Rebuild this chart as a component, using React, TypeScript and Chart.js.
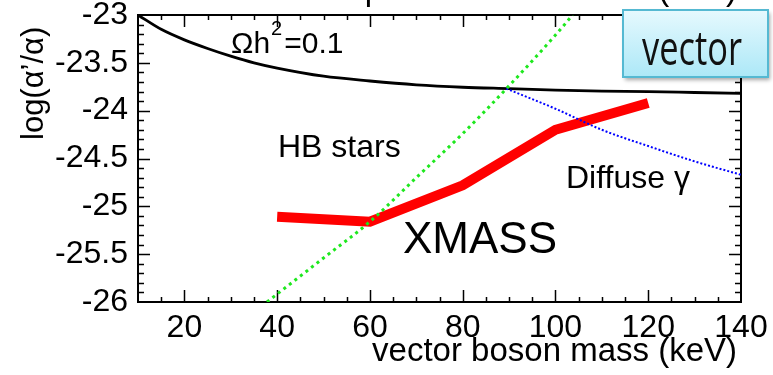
import React, { useEffect, useRef } from "react";
import { Chart, registerables } from "chart.js";
Chart.register(...registerables);

// ---- data ----
const relicMass = [10, 15, 20, 25, 30, 35, 40, 50, 60, 70, 80, 90, 100, 110, 120, 130, 140];
const relicCoupling = [-23.0, -23.15, -23.26, -23.35, -23.43, -23.5, -23.555, -23.64, -23.69, -23.73, -23.755, -23.77, -23.785, -23.795, -23.8, -23.81, -23.82];

const hbMass = [37.8, 50, 60, 70, 80, 90, 100, 103.7];
const hbCoupling = [-26.0, -25.54, -25.16, -24.7, -24.24, -23.74, -23.21, -23.0];

const diffuseMass = [89.4, 100, 110, 120, 130, 140];
const diffuseCoupling = [-23.77, -23.98, -24.2, -24.37, -24.53, -24.67];

const xmassMass = [40, 60, 80, 100, 120];
const xmassCoupling = [-25.11, -25.16, -24.78, -24.2, -23.92];

const xTickValues = [20, 40, 60, 80, 100, 120, 140];
const yTickValues = [-23, -23.5, -24, -24.5, -25, -25.5, -26];
const yTickLabels = ["-23", "-23.5", "-24", "-24.5", "-25", "-25.5", "-26"];

const FONT = '"Liberation Sans", Arial, Helvetica, sans-serif';

const toXY = (xs: number[], ys: number[]) => xs.map((x, i) => ({ x, y: ys[i] }));

const decorPlugin = {
  id: "decor",
  beforeDatasetsDraw(chart: any) {
    const { ctx, chartArea: a, scales } = chart;
    const xs = scales.x;
    const ys = scales.y;
    ctx.save();
    ctx.strokeStyle = "#000";
    ctx.lineWidth = 1.5;
    ctx.beginPath();
    for (let v = 15; v < 140; v += 5) {
      const px = Math.round(xs.getPixelForValue(v)) + 0.5;
      const len = v % 20 === 0 ? 12 : 5;
      ctx.moveTo(px, a.bottom);
      ctx.lineTo(px, a.bottom - len);
      ctx.moveTo(px, a.top);
      ctx.lineTo(px, a.top + len);
    }
    for (let i = 1; i < 30; i++) {
      const v = -23 - i * 0.1;
      const py = Math.round(ys.getPixelForValue(v)) + 0.5;
      const len = i % 5 === 0 ? 12 : 6;
      ctx.moveTo(a.left, py);
      ctx.lineTo(a.left + len, py);
      ctx.moveTo(a.right, py);
      ctx.lineTo(a.right - len, py);
    }
    ctx.stroke();
    ctx.lineWidth = 2;
    ctx.strokeRect(a.left, a.top, a.right - a.left, a.bottom - a.top);
    ctx.restore();
  },
  afterDraw(chart: any) {
    const { ctx } = chart;
    ctx.save();
    ctx.fillStyle = "#000";
    ctx.textBaseline = "alphabetic";

    ctx.font = `33px ${FONT}`;
    ctx.textAlign = "right";
    ctx.fillText("pseudoscalar mass (keV)", 737, 0);

    ctx.fillText("vector boson mass (keV)", 737, 361);

    ctx.save();
    ctx.translate(43, 140);
    ctx.rotate(-Math.PI / 2);
    ctx.textAlign = "left";
    ctx.font = `31px ${FONT}`;
    ctx.fillText("log(α’/α)", 0, 0);
    ctx.restore();

    ctx.textAlign = "left";
    ctx.font = `30px ${FONT}`;
    let x = 231;
    ctx.fillText("Ωh", x, 53);
    x += ctx.measureText("Ωh").width + 1;
    ctx.font = `20px ${FONT}`;
    ctx.fillText("2", x, 35);
    x += ctx.measureText("2").width + 2;
    ctx.font = `30px ${FONT}`;
    ctx.fillText("=0.1", x, 53);

    ctx.font = `32px ${FONT}`;
    ctx.fillText("HB stars", 278, 157);
    ctx.fillText("Diffuse γ", 566, 188);

    ctx.font = `44px ${FONT}`;
    ctx.fillText("XMASS", 403, 253);

    const bx = 623, by = 10, bw = 145, bh = 67;
    ctx.save();
    ctx.shadowColor = "rgba(0,0,0,0.35)";
    ctx.shadowBlur = 4;
    ctx.shadowOffsetX = 2;
    ctx.shadowOffsetY = 3;
    const g = ctx.createLinearGradient(0, by, 0, by + bh);
    g.addColorStop(0, "#e6f9fe");
    g.addColorStop(1, "#ace8f7");
    ctx.fillStyle = g;
    ctx.fillRect(bx, by, bw, bh);
    ctx.restore();
    ctx.strokeStyle = "#55b9d2";
    ctx.lineWidth = 2;
    ctx.strokeRect(bx, by, bw, bh);

    ctx.fillStyle = "#111";
    ctx.font = `47px "Open Sans", "Noto Sans", sans-serif`;
    const w = ctx.measureText("vector").width;
    const target = 100;
    ctx.save();
    ctx.translate(642, 65);
    ctx.scale(target / w, 1);
    ctx.fillText("vector", 0, 0);
    ctx.restore();

    ctx.restore();
  },
};

export default function App() {
  const ref = useRef<HTMLCanvasElement | null>(null);
  useEffect(() => {
    document.body.style.margin = "0";
    const canvas = ref.current;
    if (!canvas) return;
    const chart = new Chart(canvas, {
      type: "scatter",
      data: {
        datasets: [
          {
            label: "relic",
            data: toXY(relicMass, relicCoupling),
            showLine: true,
            borderColor: "#000",
            borderWidth: 2.8,
            pointRadius: 0,
            cubicInterpolationMode: "monotone",
            order: 4,
          },
          {
            label: "XMASS",
            data: toXY(xmassMass, xmassCoupling),
            showLine: true,
            borderColor: "#ff0000",
            borderWidth: 10,
            pointRadius: 0,
            borderJoinStyle: "miter",
            borderCapStyle: "butt",
            order: 3,
          },
          {
            label: "Diffuse",
            data: toXY(diffuseMass, diffuseCoupling),
            showLine: true,
            borderColor: "#0000ff",
            borderWidth: 2,
            borderDash: [2, 2],
            pointRadius: 0,
            cubicInterpolationMode: "monotone",
            order: 2,
          },
          {
            label: "HB",
            data: toXY(hbMass, hbCoupling),
            showLine: true,
            borderColor: "#1ee81e",
            borderWidth: 3,
            borderDash: [3, 4],
            pointRadius: 0,
            cubicInterpolationMode: "monotone",
            order: 1,
          },
        ],
      },
      options: {
        animation: false,
        responsive: false,
        devicePixelRatio: 1,
        layout: { padding: { left: 0, top: 15, right: 32, bottom: 0 } },
        plugins: { legend: { display: false }, tooltip: { enabled: false } },
        scales: {
          x: {
            type: "linear",
            min: 10,
            max: 140,
            grid: { display: false, drawTicks: false },
            border: { display: false },
            afterBuildTicks: (s: any) => {
              s.ticks = xTickValues.map((v) => ({ value: v }));
            },
            afterFit: (s: any) => {
              s.height = 73;
              s.paddingLeft = 0;
              s.paddingRight = 0;
            },
            ticks: {
              color: "#000",
              padding: 7,
              maxRotation: 0,
              autoSkip: false,
              font: { family: FONT, size: 32 },
              callback: (v: any) => String(v),
            },
          },
          y: {
            type: "linear",
            min: -26,
            max: -23,
            grid: { display: false, drawTicks: false },
            border: { display: false },
            afterBuildTicks: (s: any) => {
              s.ticks = yTickValues.map((v) => ({ value: v }));
            },
            afterFit: (s: any) => {
              s.width = 138;
              s.paddingTop = 0;
              s.paddingBottom = 0;
            },
            ticks: {
              color: "#000",
              padding: 10,
              autoSkip: false,
              font: { family: FONT, size: 32 },
              callback: (v: any) => {
                const i = yTickValues.findIndex((t) => Math.abs(t - v) < 1e-6);
                return i >= 0 ? yTickLabels[i] : "";
              },
            },
          },
        },
      },
      plugins: [decorPlugin],
    } as any);
    return () => chart.destroy();
  }, []);
  return <canvas ref={ref} width={773} height={375} style={{ display: "block" }} />;
}
